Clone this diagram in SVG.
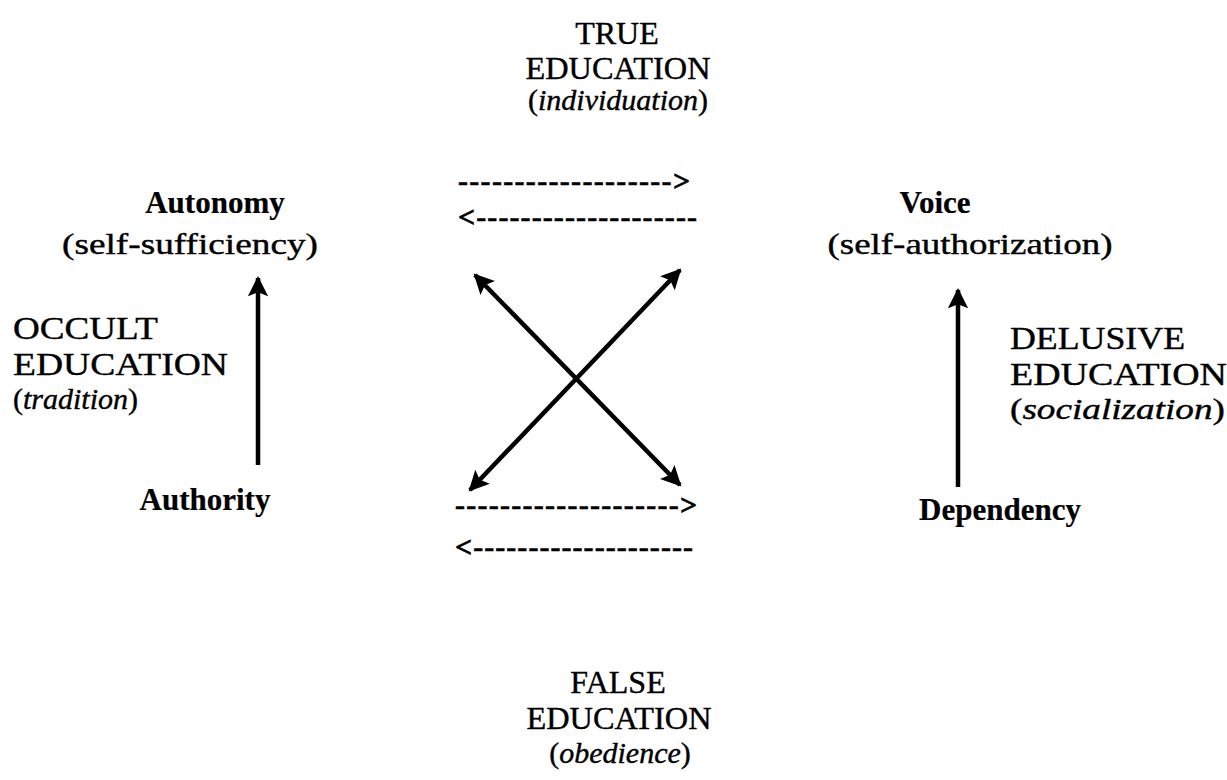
<svg xmlns="http://www.w3.org/2000/svg" width="1227" height="780" viewBox="0 0 1227 780">
<defs>
<style>
text{font-family:"Liberation Serif","Times New Roman",serif;fill:#000;stroke:#000;stroke-width:0.4;}
.cap{font-size:32px;}
.it{font-size:30px;font-style:italic;}
.b{font-size:31px;font-weight:bold;stroke-width:0.2;}
.p{font-size:30px;}
.d{font-size:30px;font-weight:bold;stroke-width:0.6;}
.mid{text-anchor:middle;}
.ln{stroke:#000;stroke-width:4.5;fill:none;}
</style>
<marker id="ah" viewBox="0 0 10 10" refX="9" refY="5" markerWidth="5.5" markerHeight="4.5" orient="auto-start-reverse" markerUnits="strokeWidth">
<path d="M0,0 L10,5 L0,10 L2,5 Z" fill="#000"/>
</marker>
</defs>
<rect width="1227" height="780" fill="#fff"/>

<g id="true-education">
<text class="cap mid" x="617" y="44">TRUE</text>
<text class="cap mid" x="618" y="79" textLength="185" lengthAdjust="spacingAndGlyphs">EDUCATION</text>
<text class="it mid" x="618" y="110"><tspan font-style="normal">(</tspan>individuation<tspan font-style="normal">)</tspan></text>
</g>

<g id="autonomy">
<text class="b mid" x="215" y="213">Autonomy</text>
<text class="p mid" x="190" y="254" textLength="256" lengthAdjust="spacingAndGlyphs">(self-sufficiency)</text>
</g>

<g id="voice">
<text class="b mid" x="935" y="213">Voice</text>
<text class="p mid" x="970" y="254" textLength="285" lengthAdjust="spacingAndGlyphs">(self-authorization)</text>
</g>

<g id="occult-education">
<text class="cap" x="13" y="339" textLength="145" lengthAdjust="spacingAndGlyphs">OCCULT</text>
<text class="cap" x="13" y="375" textLength="215" lengthAdjust="spacingAndGlyphs">EDUCATION</text>
<text class="it" x="13" y="409"><tspan font-style="normal">(</tspan>tradition<tspan font-style="normal">)</tspan></text>
</g>

<g id="delusive-education">
<text class="cap" x="1010" y="349" textLength="175" lengthAdjust="spacingAndGlyphs">DELUSIVE</text>
<text class="cap" x="1010" y="385" textLength="217" lengthAdjust="spacingAndGlyphs">EDUCATION</text>
<text class="it" x="1010" y="419" textLength="215" lengthAdjust="spacingAndGlyphs"><tspan font-style="normal">(</tspan>socialization<tspan font-style="normal">)</tspan></text>
</g>

<g id="authority">
<text class="b mid" x="205" y="510">Authority</text>
</g>

<g id="dependency">
<text class="b mid" x="1000" y="520">Dependency</text>
</g>

<g id="false-education">
<text class="cap mid" x="618" y="693">FALSE</text>
<text class="cap mid" x="619" y="729" textLength="185" lengthAdjust="spacingAndGlyphs">EDUCATION</text>
<text class="it mid" x="620" y="763"><tspan font-style="normal">(</tspan>obedience<tspan font-style="normal">)</tspan></text>
</g>

<g id="dashed-arrows">
<text class="d" x="458" y="191" textLength="232" lengthAdjust="spacing">-------------------&gt;</text>
<text class="d" x="458" y="227" textLength="239" lengthAdjust="spacing">&lt;--------------------</text>
<text class="d" x="455" y="515" textLength="242" lengthAdjust="spacing">--------------------&gt;</text>
<text class="d" x="455" y="557" textLength="238" lengthAdjust="spacing">&lt;--------------------</text>
</g>

<g id="connectors">
<line class="ln" x1="258" y1="465" x2="258" y2="278" marker-end="url(#ah)"/>
<line class="ln" x1="958" y1="487" x2="958" y2="290" marker-end="url(#ah)"/>
<line class="ln" x1="475" y1="275" x2="680" y2="485" marker-start="url(#ah)" marker-end="url(#ah)"/>
<line class="ln" x1="680" y1="270" x2="470" y2="490" marker-start="url(#ah)" marker-end="url(#ah)"/>
</g>
</svg>
